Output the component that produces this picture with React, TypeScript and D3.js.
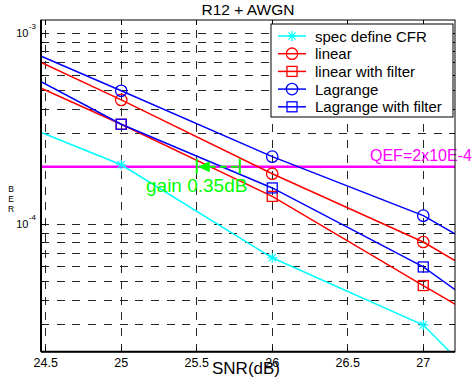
import React from "react";
import * as d3 from "d3";

// SNR sample points (dB); the outer points lie beyond the visible axis range
const snr = [24, 25, 26, 27, 28];
const specCFR = [4.27e-4, 2.05e-4, 6.68e-5, 2.97e-5, 4.72e-6];
const linear = [1.05e-3, 4.48e-4, 1.84e-4, 8.08e-5, 2.76e-5];
const linearFilter = [7.58e-4, 3.34e-4, 1.4e-4, 4.78e-5, 1.64e-5];
const lagrange = [1.1e-3, 5.0e-4, 2.26e-4, 1.11e-4, 3.88e-5];
const lagrangeFilter = [8.8e-4, 3.34e-4, 1.55e-4, 5.98e-5, 1.63e-5];

const qef = 2e-4;
const qefLabel = "QEF=2x10E-4";
const gainLabel = "gain 0.35dB";
const gainBracket = [25.5, 25.785];

const xTicks = [24.5, 25, 25.5, 26, 26.5, 27];
const xTickLabels = ["24.5", "25", "25.5", "26", "26.5", "27"];
const yMajor = [1e-3, 1e-4];
const yMajorExp = ["-3", "-4"];
const yLabel = "BER";

const seriesNames = ["spec define CFR", "linear", "linear with filter", "Lagrange", "Lagrange with filter"];
const seriesColors = ["#00ffff", "#ff0000", "#ff0000", "#0000ff", "#0000ff"];
const seriesMarkers = ["star", "circle", "square", "circle", "square"];
const seriesValues = [specCFR, linear, linearFilter, lagrange, lagrangeFilter];

const W = 475;
const H = 390;
const L = 41, R = 455, T = 20, B = 351.7;
const FONT = "'Liberation Sans', Arial, Helvetica, sans-serif";

const x = d3.scaleLinear().domain([24.469, 27.21]).range([L, R]);
const y = d3.scaleLog().domain([Math.pow(10, -4.667), Math.pow(10, -2.9304)]).range([B, T]);

function Marker({ kind, cx, cy, color }: { kind: string; cx: number; cy: number; color: string }) {
  if (kind === "circle") {
    return <circle cx={cx} cy={cy} r={5.7} fill="none" stroke={color} strokeWidth={1.3} />;
  }
  if (kind === "square") {
    return <rect x={cx - 5} y={cy - 5} width={10} height={10} fill="none" stroke={color} strokeWidth={1.3} />;
  }
  const r = 5;
  const d = r * 0.72;
  return (
    <g stroke={color} strokeWidth={1.2}>
      <line x1={cx - r} y1={cy} x2={cx + r} y2={cy} />
      <line x1={cx} y1={cy - r} x2={cx} y2={cy + r} />
      <line x1={cx - d} y1={cy - d} x2={cx + d} y2={cy + d} />
      <line x1={cx - d} y1={cy + d} x2={cx + d} y2={cy - d} />
    </g>
  );
}

export default function App() {
  const line = d3
    .line<number>()
    .x((_, i) => x(snr[i]))
    .y((v) => y(v));

  // horizontal grid at every 1..9 x 10^k inside the domain
  const [yLo, yHi] = y.domain();
  const yGrid: number[] = [];
  for (let e = -5; e <= -2; e++) {
    for (let k = 1; k <= 9; k++) {
      const v = k * Math.pow(10, e);
      if (v >= yLo && v <= yHi) yGrid.push(v);
    }
  }

  const gridStyle = { stroke: "#262626", strokeWidth: 1, strokeDasharray: "8,7.7" };
  const visibleIdx = snr.map((s, i) => i).filter((i) => snr[i] >= x.domain()[0] && snr[i] <= x.domain()[1]);

  const legX = 271, legY = 24, legW = 182, legH = 93;
  const legRow = (i: number) => 36 + i * 17.7;

  const gx0 = x(gainBracket[0]);
  const gx1 = x(gainBracket[1]);
  const gy = y(qef);

  return (
    <svg width={W} height={H} style={{ position: "fixed", left: 0, top: 0, background: "#fff" }} fontFamily={FONT}>
      <defs>
        <clipPath id="plotClip">
          <rect x={L} y={T} width={R - L} height={B - T} />
        </clipPath>
      </defs>
      <rect x={0} y={0} width={W} height={H} fill="#fff" />

      {/* grid */}
      <g shapeRendering="crispEdges">
        {yGrid.map((v, i) => (
          <line key={"hy" + i} x1={L} x2={R} y1={y(v)} y2={y(v)} style={gridStyle} />
        ))}
        {xTicks.map((t, i) => (
          <line key={"vx" + i} x1={x(t)} x2={x(t)} y1={B} y2={T} style={gridStyle} />
        ))}
      </g>

      {/* tick marks */}
      <g stroke="#000" strokeWidth={1} shapeRendering="crispEdges">
        {xTicks.map((t, i) => (
          <g key={"xt" + i}>
            <line x1={x(t)} x2={x(t)} y1={B} y2={B - 5} />
            <line x1={x(t)} x2={x(t)} y1={T} y2={T + 5} />
          </g>
        ))}
        {yGrid.map((v, i) => {
          const major = yMajor.includes(v);
          const len = major ? 5 : 3;
          return (
            <g key={"yt" + i}>
              <line x1={L} x2={L + len} y1={y(v)} y2={y(v)} />
              <line x1={R} x2={R - len} y1={y(v)} y2={y(v)} />
            </g>
          );
        })}
      </g>

      {/* data */}
      <g clipPath="url(#plotClip)">
        <line x1={L} x2={R} y1={gy} y2={gy} stroke="#ff00ff" strokeWidth={2.5} />
        {seriesValues.map((vals, s) => (
          <path key={"p" + s} d={line(vals) || ""} fill="none" stroke={seriesColors[s]} strokeWidth={1.5} />
        ))}
        {seriesValues.map((vals, s) =>
          visibleIdx.map((i) => (
            <Marker key={"m" + s + "-" + i} kind={seriesMarkers[s]} cx={x(snr[i])} cy={y(vals[i])} color={seriesColors[s]} />
          ))
        )}
      </g>

      {/* gain annotation */}
      <g stroke="#00ff00" strokeWidth={2} fill="#00ff00">
        <line x1={gx0} x2={gx0} y1={gy - 8} y2={gy + 7} />
        <line x1={gx1} x2={gx1} y1={gy - 8} y2={gy + 7} />
        <line x1={gx0 + 12} x2={gx1} y1={gy} y2={gy} strokeDasharray="7,4" />
        <path d={`M${gx0 + 1},${gy} L${gx0 + 13},${gy - 5.5} L${gx0 + 13},${gy + 5.5} Z`} stroke="none" />
      </g>
      <text x={146} y={191.5} fontSize={19} fill="#00ff00">
        {gainLabel}
      </text>
      <text x={370} y={161} fontSize={16} fill="#ff00ff">
        {qefLabel}
      </text>

      {/* axes box */}
      <rect x={L} y={T} width={R - L} height={B - T} fill="none" stroke="#000" strokeWidth={1} />
      <line x1={L} x2={R} y1={B} y2={B} stroke="#000" strokeWidth={2} />
      <line x1={L} x2={L} y1={T} y2={B} stroke="#000" strokeWidth={2} />

      {/* x tick labels */}
      {xTicks.map((t, i) => (
        <text key={"xl" + i} x={x(t)} y={367} fontSize={12.5} textAnchor="middle" fill="#000">
          {xTickLabels[i]}
        </text>
      ))}
      {/* y tick labels */}
      {yMajor.map((v, i) => (
        <g key={"yl" + i}>
          <text x={28.5} y={y(v) + 4} fontSize={11} textAnchor="end" fill="#000">
            10
          </text>
          <text x={28.8} y={y(v) - 4} fontSize={8} fill="#000">
            {yMajorExp[i]}
          </text>
        </g>
      ))}

      <text x={246} y={374} fontSize={17} textAnchor="middle" fill="#000">
        SNR(dB)
      </text>
      <text x={248} y={15} fontSize={15.5} textAnchor="middle" fill="#000">
        R12 + AWGN
      </text>
      {/* narrow stacked y-axis label */}
      {yLabel.split("").map((ch, i) => (
        <text key={"yc" + i} x={11} y={192 + i * 10} fontSize={8.5} textAnchor="middle" fill="#000">
          {ch}
        </text>
      ))}

      {/* legend */}
      <rect x={legX} y={legY} width={legW} height={legH} fill="#fff" stroke="#000" strokeWidth={1} />
      {seriesNames.map((name, i) => (
        <g key={"lg" + i}>
          <line x1={278} x2={306} y1={legRow(i)} y2={legRow(i)} stroke={seriesColors[i]} strokeWidth={1.5} />
          <Marker kind={seriesMarkers[i]} cx={292} cy={legRow(i)} color={seriesColors[i]} />
          <text x={315} y={legRow(i) + 5.5} fontSize={15} fill="#000">
            {name}
          </text>
        </g>
      ))}
    </svg>
  );
}
